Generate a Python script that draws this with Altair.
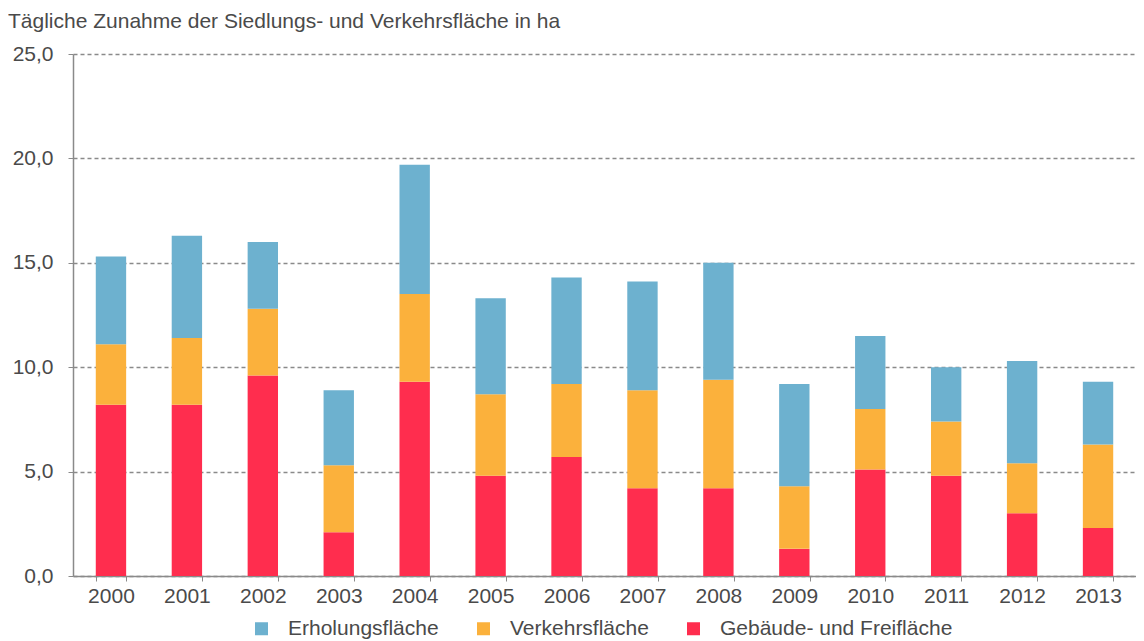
import altair as alt
import pandas as pd

years = ["2000", "2001", "2002", "2003", "2004", "2005", "2006",
         "2007", "2008", "2009", "2010", "2011", "2012", "2013"]
gebaeude = [8.2, 8.2, 9.6, 2.1, 9.3, 4.8, 5.7, 4.2, 4.2, 1.3, 5.1, 4.8, 3.0, 2.3]
verkehr = [2.9, 3.2, 3.2, 3.2, 4.2, 3.9, 3.5, 4.7, 5.2, 3.0, 2.9, 2.6, 2.4, 4.0]
erholung = [4.2, 4.9, 3.2, 3.6, 6.2, 4.6, 5.1, 5.2, 5.6, 4.9, 3.5, 2.6, 4.9, 3.0]

categories = ["Erholungsfläche", "Verkehrsfläche", "Gebäude- und Freifläche"]
colors = ["#6DB1CF", "#FBB13C", "#FF2D4E"]
stack_rank = {"Gebäude- und Freifläche": 0, "Verkehrsfläche": 1, "Erholungsfläche": 2}
y_ticks = [0, 5, 10, 15, 20, 25]

rows = []
for cat, vals in [("Gebäude- und Freifläche", gebaeude),
                  ("Verkehrsfläche", verkehr),
                  ("Erholungsfläche", erholung)]:
    for y, v in zip(years, vals):
        rows.append({"Jahr": y, "Kategorie": cat, "Wert": v, "Rang": stack_rank[cat]})
df = pd.DataFrame(rows)

FONT = "Liberation Sans"
TXT = "#4a4a4a"
AX = "#8a8a8a"

chart = alt.Chart(df).mark_bar().encode(
    x=alt.X("Jahr:N", sort=years,
            scale=alt.Scale(paddingInner=0.6, paddingOuter=0.3),
            axis=alt.Axis(title=None, labelAngle=0, tickBand="extent", tickSize=5,
                          labelPadding=4, domainColor=AX, tickColor=AX, domainWidth=1.5,
                          labelFont=FONT, labelFontSize=21, labelColor=TXT)),
    y=alt.Y("Wert:Q", stack="zero",
            scale=alt.Scale(domain=[0, 25], nice=False),
            axis=alt.Axis(title=None, values=y_ticks,
                          labelExpr="replace(format(datum.value, '.1f'), '.', ',')",
                          grid=True, gridDash=[4, 3], gridColor=AX, gridWidth=1.5,
                          tickSize=5, tickColor=AX, domainColor=AX, domainWidth=1.5,
                          labelPadding=15, minExtent=65, maxExtent=65,
                          labelFont=FONT, labelFontSize=21, labelColor=TXT)),
    color=alt.Color("Kategorie:N",
                    scale=alt.Scale(domain=categories, range=colors),
                    legend=alt.Legend(title=None, orient="none", legendX=178, legendY=564,
                                      direction="horizontal", symbolType="square",
                                      symbolSize=169, symbolStrokeWidth=0,
                                      labelFont=FONT, labelFontSize=21, labelColor=TXT,
                                      labelLimit=400,
                                      labelOffset=16, columnPadding=34, padding=0)),
    order=alt.Order("Rang:Q", sort="ascending"),
).properties(
    width=1063,
    height=522,
    padding={"left": 0, "top": 3, "right": 0, "bottom": 0},
    title=alt.TitleParams(
        "Tägliche Zunahme der Siedlungs- und Verkehrsfläche in ha",
        anchor="start", font=FONT, fontSize=21, fontWeight="normal",
        color=TXT, offset=11),
).configure_view(stroke=None)

chart.save("out.html", embed_options={"renderer": "svg", "actions": False})
